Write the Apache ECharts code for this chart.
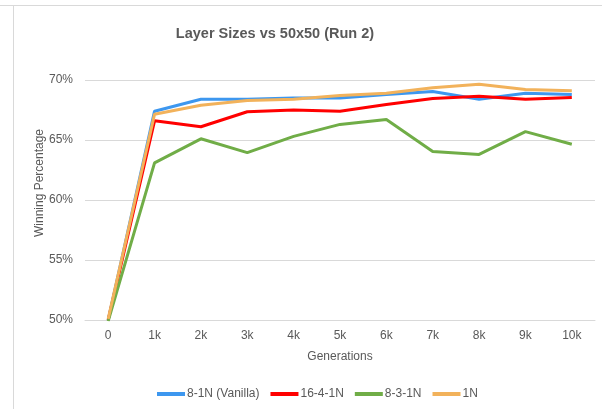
<!DOCTYPE html>
<html lang="en">
<head>
    <meta charset="UTF-8">
    <title>Layer Sizes vs 50x50 (Run 2)</title>
    <style>
        body { margin: 0; font-family: "Liberation Sans", Arial, sans-serif; background: #fff; }
        #chart { width: 602px; height: 409px; }
    </style>
</head>
<body>
    <div id="chart"></div>
    <script src="https://cdn.jsdelivr.net/npm/echarts@6.0.0/dist/echarts.min.js"></script>
    <script>
        // Generations (x-axis categories)
        const generations = ['0', '1k', '2k', '3k', '4k', '5k', '6k', '7k', '8k', '9k', '10k'];

        // Winning percentage per layer size
        const vanilla = [50.0, 67.4, 68.4, 68.4, 68.5, 68.5, 68.8, 69.05, 68.4, 68.9, 68.8];
        const l1644 = [50.0, 66.6, 66.1, 67.35, 67.5, 67.4, 67.95, 68.45, 68.65, 68.4, 68.55];
        const l831 = [49.9, 63.1, 65.1, 63.95, 65.3, 66.3, 66.7, 64.05, 63.8, 65.7, 64.65];
        const l1n = [50.1, 67.15, 67.9, 68.3, 68.4, 68.7, 68.9, 69.35, 69.65, 69.2, 69.1];

        const yTicks = { min: 50, max: 70, interval: 5 };

        const chart = echarts.init(document.getElementById('chart'));
        const grey = '#595959';

        const mk = (name, data, color) => ({
            name, type: 'line', data,
            symbol: 'none',
            lineStyle: { color, width: 3 },
            itemStyle: { color }
        });

        chart.setOption({
            animation: false,
            textStyle: { fontFamily: '"Liberation Sans", Arial, sans-serif' },
            title: {
                text: 'Layer Sizes vs 50x50 (Run 2)',
                left: 270, top: 21, textAlign: 'center',
                textStyle: { color: grey, fontSize: 14.5, fontWeight: 'bold' }
            },
            legend: {
                bottom: 4, left: 152,
                itemWidth: 28, itemHeight: 4, itemGap: 11,
                icon: 'rect',
                textStyle: { color: grey, fontSize: 12, padding: [0, 0, 0, -3] },
                data: ['8-1N (Vanilla)', '16-4-1N', '8-3-1N', '1N']
            },
            grid: { left: 85, top: 80, width: 510, height: 240, containLabel: false },
            xAxis: {
                type: 'category', data: generations, boundaryGap: true,
                name: 'Generations', nameLocation: 'middle', nameGap: 31,
                nameTextStyle: { color: grey, fontSize: 12 },
                axisLine: { lineStyle: { color: '#d9d9d9', width: 1 } },
                axisTick: { show: false },
                axisLabel: { color: grey, fontSize: 12, margin: 10 }
            },
            yAxis: {
                type: 'value', min: yTicks.min, max: yTicks.max, interval: yTicks.interval,
                axisLine: { show: false }, axisTick: { show: false },
                axisLabel: { color: grey, fontSize: 12, margin: 12, formatter: v => v + '%' },
                splitLine: { lineStyle: { color: '#d9d9d9', width: 1 } }
            },
            graphic: [
                { type: 'line', shape: { x1: 0, y1: 5.5, x2: 602, y2: 5.5 }, style: { stroke: '#d9d9d9', lineWidth: 1 } },
                { type: 'line', shape: { x1: 13.5, y1: 5, x2: 13.5, y2: 409 }, style: { stroke: '#d9d9d9', lineWidth: 1 } },
                {
                    type: 'text', x: 40, y: 183, rotation: Math.PI / 2,
                    style: { text: 'Winning Percentage', fill: grey, fontSize: 12, align: 'center', verticalAlign: 'middle',
                             fontFamily: '"Liberation Sans", Arial, sans-serif' }
                }
            ],
            series: [
                mk('8-1N (Vanilla)', vanilla, '#3d97ef'),
                mk('16-4-1N', l1644, '#ff0000'),
                mk('8-3-1N', l831, '#70ad47'),
                mk('1N', l1n, '#f2b25b')
            ]
        });
    </script>
</body>
</html>
